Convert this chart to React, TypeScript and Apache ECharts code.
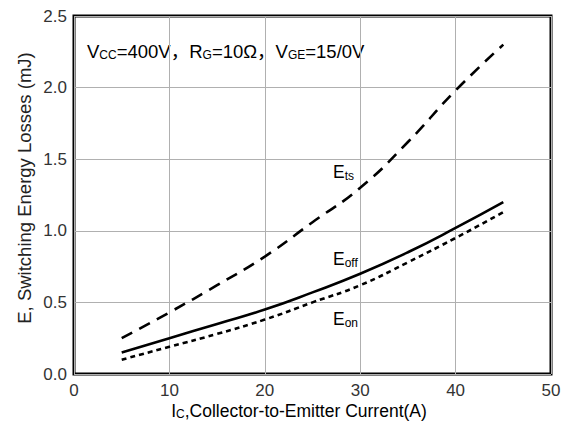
import React, { useEffect, useRef } from "react";
import * as echarts from "echarts";

const currents = [5, 10, 15, 20, 25, 30, 35, 40, 45];
const eTs = [0.25, 0.43, 0.62, 0.82, 1.06, 1.3, 1.62, 1.98, 2.3];
const eOff = [0.15, 0.25, 0.35, 0.45, 0.57, 0.7, 0.85, 1.02, 1.2];
const eOn = [0.1, 0.19, 0.28, 0.38, 0.5, 0.62, 0.78, 0.95, 1.13];

const FONT = "'Liberation Sans', Arial, 'Noto Sans CJK SC', sans-serif";

const pairs = (ys: number[]) => currents.map((x, i) => [x, ys[i]]);

export default function App() {
  const ref = useRef<HTMLDivElement>(null);
  useEffect(() => {
    document.body.style.margin = "0";
    if (!ref.current) return;
    const chart = echarts.init(ref.current, undefined, { renderer: "svg" });
    const main = { fontSize: 18.5, fontFamily: FONT, color: "#222" };
    const sub = { fontSize: 12, fontFamily: FONT, color: "#222", padding: [8, 0, 0, 0] };
    const lab = { fontSize: 17.5, fontFamily: FONT, color: "#222" };
    const labSub = { fontSize: 12, fontFamily: FONT, color: "#222", padding: [8, 0, 0, 0] };
    chart.setOption({
      animation: false,
      backgroundColor: "#fff",
      grid: {
        left: 74,
        right: 22,
        top: 16,
        bottom: 47,
        show: true,
        borderColor: "#000",
        borderWidth: 3,
      },
      xAxis: {
        type: "value",
        min: 0,
        max: 50,
        interval: 10,
        axisLine: { show: false },
        axisTick: { show: false },
        axisLabel: { fontSize: 17, fontFamily: FONT, color: "#333", margin: 8 },
        splitLine: { show: true, lineStyle: { color: "#b0b0b0", width: 1 } },
      },
      yAxis: {
        type: "value",
        min: 0,
        max: 2.5,
        interval: 0.5,
        axisLine: { show: false },
        axisTick: { show: false },
        axisLabel: {
          fontSize: 17,
          fontFamily: FONT,
          color: "#333",
          margin: 7,
          formatter: (v: number) => v.toFixed(1),
        },
        splitLine: { show: true, lineStyle: { color: "#b0b0b0", width: 1 } },
      },
      series: [
        {
          name: "Ets",
          type: "line",
          data: pairs(eTs),
          smooth: true,
          symbol: "none",
          lineStyle: { color: "#000", width: 2.6, type: [12, 8] },
        },
        {
          name: "Eoff",
          type: "line",
          data: pairs(eOff),
          smooth: true,
          symbol: "none",
          lineStyle: { color: "#000", width: 2.6, type: "solid" },
        },
        {
          name: "Eon",
          type: "line",
          data: pairs(eOn),
          smooth: true,
          symbol: "none",
          lineStyle: { color: "#000", width: 2.6, type: [5, 4] },
        },
      ],
      graphic: [
        {
          type: "text",
          x: 299,
          y: 411,
          style: {
            text: "{n|I}{s|C}{n|,Collector-to-Emitter Current(A)}",
            align: "center",
            verticalAlign: "middle",
            rich: {
              n: { fontSize: 17.5, fontFamily: FONT, color: "#222" },
              s: { fontSize: 12, fontFamily: FONT, color: "#222", padding: [6, 0, 0, 0] },
            },
          },
        },
        {
          type: "text",
          x: 24,
          y: 188,
          rotation: Math.PI / 2,
          style: {
            text: "E, Switching Energy Losses (mJ)",
            align: "center",
            verticalAlign: "middle",
            fontSize: 18.5,
            fontFamily: FONT,
            fill: "#222",
          },
        },
        {
          type: "text",
          left: 87,
          top: 42,
          style: {
            text: "{n|V}{s|CC}{n|=400V，R}{s|G}{n|=10Ω，V}{s|GE}{n|=15/0V}",
            rich: { n: main, s: sub },
          },
        },
        {
          type: "text",
          left: 333,
          top: 163,
          style: { text: "{n|E}{s|ts}", rich: { n: lab, s: labSub } },
        },
        {
          type: "text",
          left: 333,
          top: 250,
          style: { text: "{n|E}{s|off}", rich: { n: lab, s: labSub } },
        },
        {
          type: "text",
          left: 333,
          top: 310,
          style: { text: "{n|E}{s|on}", rich: { n: lab, s: labSub } },
        },
      ],
    });
    return () => chart.dispose();
  }, []);
  return <div ref={ref} style={{ width: 573, height: 421 }} />;
}
